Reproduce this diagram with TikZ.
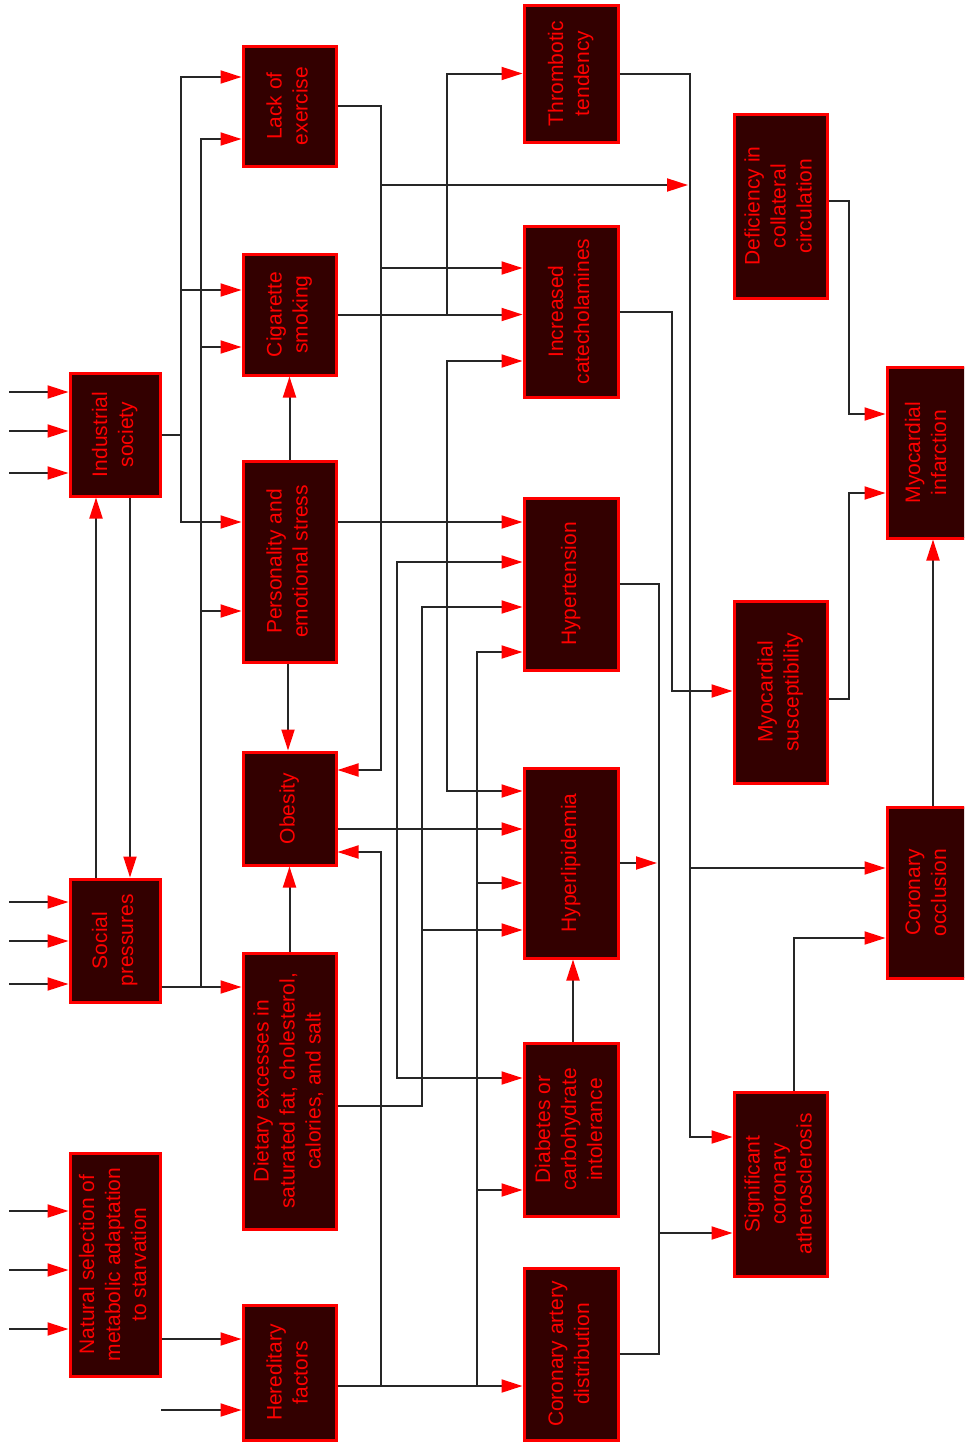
\documentclass[tikz,border=0pt]{standalone}
\usepackage{fontspec}
\setmainfont{Liberation Sans}
\usepackage{graphicx}
\usetikzlibrary{arrows.meta}
\definecolor{boxfill}{RGB}{51,0,0}
\definecolor{lncol}{RGB}{38,38,38}
\newcommand{\rtxt}[1]{\rotatebox{90}{\begin{tabular}{@{}c@{}}#1\end{tabular}}}
\tikzset{
 box/.style={draw=red, line width=3pt, fill=boxfill, text=red, inner sep=0pt,
   font=\fontsize{21}{26}\selectfont},
 ln/.style={draw=lncol, line width=2pt},
 arr/.style={ln, -{Triangle[length=21pt,width=13pt,color=red]}},
}
\begin{document}
\begin{tikzpicture}[x=1pt,y=-1pt]
\clip (0,0) rectangle (964,1443);
% column 1
\node[box,minimum width=90pt,minimum height=123pt] (ind) at (115,434.5) {\rtxt{Industrial\\society}};
\node[box,minimum width=90pt,minimum height=123pt] (soc) at (115,940.5) {\rtxt{Social\\pressures}};
\node[box,minimum width=90pt,minimum height=223pt] (nat) at (115,1264.5) {\rtxt{Natural selection of\\metabolic adaptation\\to starvation}};
% column 2
\node[box,minimum width=93pt,minimum height=120pt] (lack) at (289.5,106) {\rtxt{Lack of\\exercise}};
\node[box,minimum width=93pt,minimum height=121pt] (cig) at (289.5,314.5) {\rtxt{Cigarette\\smoking}};
\node[box,minimum width=93pt,minimum height=201pt] (pers) at (289.5,561.5) {\rtxt{Personality and\\emotional stress}};
\node[box,minimum width=93pt,minimum height=113pt] (obes) at (289.5,808.5) {\rtxt{Obesity}};
\node[box,minimum width=93pt,minimum height=276pt] (diet) at (289.5,1091) {\rtxt{Dietary excesses in\\saturated fat, cholesterol,\\calories, and salt}};
\node[box,minimum width=93pt,minimum height=135pt] (here) at (289.5,1372.5) {\rtxt{Hereditary\\factors}};
% column 3
\node[box,minimum width=94pt,minimum height=137pt] (thro) at (571,73.5) {\rtxt{Thrombotic\\tendency}};
\node[box,minimum width=94pt,minimum height=171pt] (cate) at (571,311.5) {\rtxt{Increased\\catecholamines}};
\node[box,minimum width=94pt,minimum height=172pt] (hype) at (571,584) {\rtxt{Hypertension}};
\node[box,minimum width=94pt,minimum height=190pt] (hlip) at (571,863) {\rtxt{Hyperlipidemia}};
\node[box,minimum width=94pt,minimum height=173pt] (diab) at (571,1129.5) {\rtxt{Diabetes or\\carbohydrate\\intolerance}};
\node[box,minimum width=94pt,minimum height=172pt] (cad) at (571,1354) {\rtxt{Coronary artery\\distribution}};
% column 4
\node[box,minimum width=93pt,minimum height=184pt] (defi) at (780.5,206) {\rtxt{Deficiency in\\collateral\\circulation}};
\node[box,minimum width=93pt,minimum height=182pt] (msus) at (780.5,692) {\rtxt{Myocardial\\susceptibility}};
\node[box,minimum width=93pt,minimum height=184pt] (sca) at (780.5,1184) {\rtxt{Significant\\coronary\\atherosclerosis}};
% column 5
\node[box,minimum width=82pt,minimum height=171pt] (mi) at (928,452.5) {\rtxt{Myocardial\\infarction}};
\node[box,minimum width=82pt,minimum height=171pt] (occ) at (928,892.5) {\rtxt{Coronary\\occlusion}};

% free inputs
\foreach \yy [count=\i] in {392,431,473} {\coordinate (ia\i) at (9,\yy); \draw[arr] (ia\i) -- (ind.west |- ia\i);}
\foreach \yy [count=\i] in {902,941,984} {\coordinate (ib\i) at (9,\yy); \draw[arr] (ib\i) -- (soc.west |- ib\i);}
\foreach \yy [count=\i] in {1211,1270,1329} {\coordinate (ic\i) at (9,\yy); \draw[arr] (ic\i) -- (nat.west |- ic\i);}
\coordinate (ih) at (161,1410);
\draw[arr] (ih) -- (here.west |- ih);

% industrial society
\draw[arr] (ind.east) -| (181,77) -- (lack.west |- 0,77);
\draw[arr] (181,290) -- (cig.west |- 0,290);
\draw[arr] (ind.east) -| (181,522) -- (pers.west |- 0,522);
\draw[arr] (ind.south -| 130,0) -- (soc.north -| 130,0);
\draw[arr] (soc.north -| 96,0) -- (ind.south -| 96,0);

% social pressures
\draw[arr] (soc.east |- 0,987) -- (diet.west |- 0,987);
\draw[arr] (soc.east |- 0,987) -| (201,139) -- (lack.west |- 0,139);
\draw[arr] (201,347) -- (cig.west |- 0,347);
\draw[arr] (201,611) -- (pers.west |- 0,611);

% natural selection
\draw[arr] (nat.east |- 0,1339) -- (here.west |- 0,1339);

% column 2 verticals
\draw[arr] (pers.north) -- (cig.south);
\draw[arr] (pers.south -| 288,0) -- (obes.north -| 288,0);
\draw[arr] (diet.north) -- (obes.south);

% lack of exercise
\coordinate (jt) at (688,185);
\draw[arr] (lack.east) -| (381,770) -- (obes.east |- 0,770);
\draw[arr] (381,268) -- (cate.west |- 0,268);
\draw[arr] (381,185) -- (jt);

% cigarette smoking
\draw[arr] (cig.east) -- (cate.west |- cig.east);
\draw[arr] (cig.east -| 447,0) |- (thro.west);

% personality
\draw[arr] (pers.east |- 0,522) -- (hype.west |- 0,522);
\draw[arr] (447,522) |- (cate.west |- 0,361);
\draw[arr] (447,522) |- (hlip.west |- 0,791);

% obesity
\draw[arr] (obes.east |- 0,829) -- (hlip.west |- 0,829);
\draw[arr] (397,829) |- (hype.west |- 0,562);
\draw[arr] (397,829) |- (diab.west |- 0,1078);

% dietary
\draw[arr] (diet.east |- 0,1106) -| (422,607) -- (hype.west |- 0,607);
\draw[arr] (422,930) -- (hlip.west |- 0,930);

% hereditary
\draw[arr] (here.east |- 0,1386) -- (cad.west |- 0,1386);
\draw[arr] (381,1386) |- (obes.east |- 0,852);
\draw[arr] (477,1386) |- (hype.west |- 0,652);
\draw[arr] (477,883) -- (hlip.west |- 0,883);
\draw[arr] (477,1190) -- (diab.west |- 0,1190);

% diabetes
\draw[arr] (diab.north -| 573,0) -- (hlip.south -| 573,0);

% column 3 -> 4
\draw[arr] (thro.east) -| (690,1137) -- (sca.west |- 0,1137);
\draw[arr] (690,868) -- (occ.west |- 0,868);
\draw[arr] (cate.east) -| (672,691) -- (msus.west |- 0,691);
\draw[arr] (hype.east) -| (659,1233) -- (sca.west |- 0,1233);
\draw[ln] (cad.east) -| (659,1233);
\draw[arr] (hlip.east) -- (hlip.east -| 657,0);

% column 4 -> 5
\draw[arr] (defi.east |- 0,201) -| (849,414) -- (mi.west |- 0,414);
\draw[arr] (msus.east |- 0,699) -| (849,493) -- (mi.west |- 0,493);
\draw[arr] (sca.north -| 794,0) |- (occ.west |- 0,938);
\draw[arr] (occ.north -| 933,0) -- (mi.south -| 933,0);
\end{tikzpicture}
\end{document}
